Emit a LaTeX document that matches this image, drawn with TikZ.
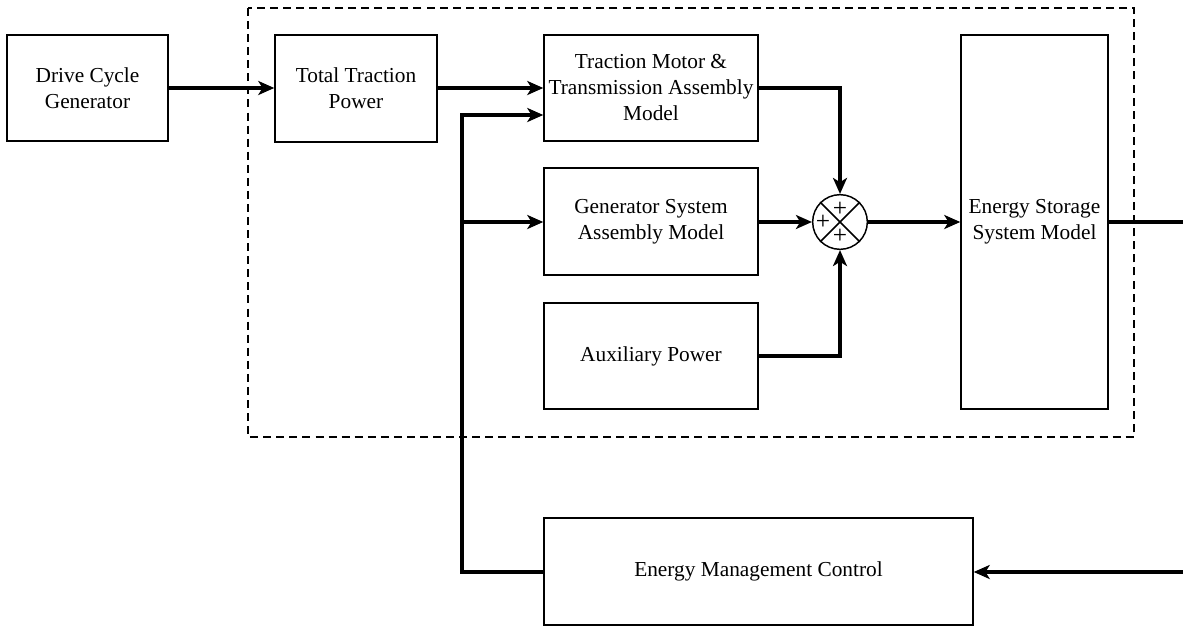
\documentclass[tikz,border=0pt]{standalone}
\usepackage{fontspec}
\setmainfont{Liberation Serif}
\newfontfamily\labelfont{Liberation Serif}
\usetikzlibrary{arrows.meta}
\begin{document}
\begin{tikzpicture}[x=0.75pt,y=-0.75pt,
  blk/.style={draw, line width=1.1pt, align=center, inner sep=0pt,
    font=\labelfont\fontsize{16}{19.5}\selectfont},
  wire/.style={line width=2.3pt, line join=miter},
  flow/.style={wire, -{Stealth[length=12pt,width=10.5pt,inset=3.2pt]}},
  group/.style={draw, line width=2.2pt, dash pattern=on 6pt off 3.8pt},
  plus/.style={font=\labelfont\fontsize{19}{19}\selectfont, inner sep=0pt}
]
\useasboundingbox (0,0) rectangle (1183,629);

% dashed enclosure of the vehicle power model
\draw[group] (248,8) rectangle (1134,437);

% blocks
\node[blk, minimum width=120.75pt, minimum height=79.5pt] (dcg) at (87.5,88)
  {Drive Cycle\\Generator};
\node[blk, minimum width=121.5pt, minimum height=80.25pt] (ttp) at (356,88.5)
  {Total Traction\\Power};
\node[blk, minimum width=160.5pt, minimum height=79.5pt] (tm) at (651,88)
  {Traction Motor \&\\Transmission Assembly\\Model};
\node[blk, minimum width=160.5pt, minimum height=80.25pt] (gen) at (651,221.5)
  {Generator System\\Assembly Model};
\node[blk, minimum width=160.5pt, minimum height=79.5pt] (aux) at (651,356)
  {Auxiliary Power};
\node[blk, minimum width=110.25pt, minimum height=280.5pt] (ess) at (1034.5,222)
  {Energy Storage\\System Model};
\node[blk, minimum width=321.75pt, minimum height=80.25pt] (emc) at (758.5,571.5)
  {Energy Management Control};

% summing junction
\node[draw, circle, line width=1.1pt, minimum size=41pt, inner sep=0pt] (sum) at (840,222) {};
\draw[line width=1.1pt] (sum.north west) -- (sum.south east)
                        (sum.north east) -- (sum.south west);
\node[plus] at (840,209) {+};
\node[plus] at (823,222) {+};
\node[plus] at (840,236) {+};

% junction points of the control feedback
\coordinate (fbtop) at (462,115);
\coordinate (fbmid) at (462,222);
\coordinate (fbbot) at (462,572);
\coordinate (essout) at (1183,222);
\coordinate (emcin) at (1183,572);

% forward path
\draw[flow] (dcg.east) -- (ttp.west |- dcg.east);
\draw[flow] (ttp.east |- tm.west) -- (tm.west);
\draw[flow] (tm.east) -| (sum.north);
\draw[flow] (gen.east |- sum.west) -- (sum.west);
\draw[flow] (aux.east) -| (sum.south);
\draw[flow] (sum.east) -- (ess.west |- sum.east);
\draw[wire] (ess.east |- sum.east) -- (essout);

% control feedback
\draw[flow] (emcin) -- (emc.east |- emcin);
\draw[flow] (emc.west |- fbbot) -- (fbbot) -- (fbtop) -- (tm.west |- fbtop);
\draw[flow] (fbmid) -- (gen.west |- fbmid);
\end{tikzpicture}
\end{document}
